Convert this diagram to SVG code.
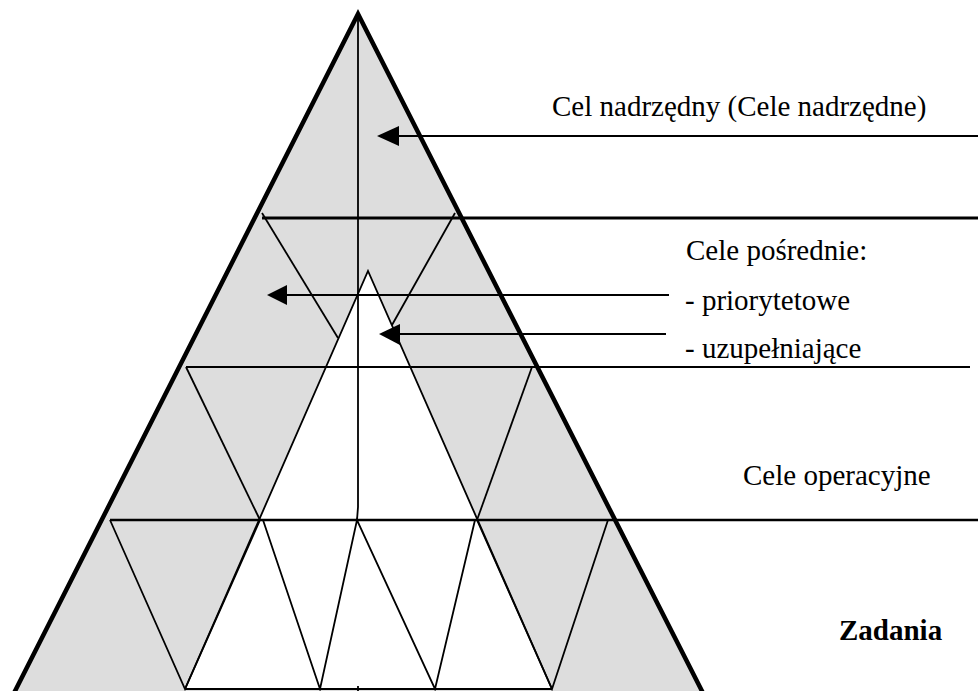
<svg xmlns="http://www.w3.org/2000/svg" width="978" height="691" viewBox="0 0 978 691">
  <style>
    .lbl { font-family: "Liberation Serif", "Times New Roman", serif; font-size: 29px; fill: #000; }
    .bold { font-weight: bold; }
    .thin { stroke: #000; stroke-width: 1.8; fill: none; }
    .hline { stroke: #000; stroke-width: 2.2; fill: none; }
    .conn { stroke: #000; stroke-width: 2; fill: none; }
    .head { fill: #000; }
  </style>
  <rect x="0" y="0" width="978" height="691" fill="#ffffff"/>

  <g id="pyramid">
    <polygon points="13,695 358,14 704,695" fill="#dddddd"/>
    <polygon points="368,271 185,689 552,689" fill="#ffffff"/>
    <!-- center vertical line -->
    <polyline class="thin" points="358,14 358,507 357,520"/>
    <line class="thin" x1="358" y1="686" x2="358" y2="691"/>
  </g>

  <g id="level-1">
    <line class="hline" x1="262" y1="218" x2="978" y2="218" style="stroke-width:3"/>
    <line class="thin" x1="262" y1="213" x2="338" y2="338"/>
    <line class="thin" x1="455" y1="213" x2="392" y2="325"/>
    <text class="lbl" x="552" y="116">Cel nadrzędny (Cele nadrzędne)</text>
  </g>

  <g id="level-2">
    <line class="hline" x1="186" y1="367" x2="970" y2="367"/>
    <line class="thin" x1="186" y1="367" x2="260" y2="520"/>
    <line class="thin" x1="477" y1="520" x2="532" y2="367"/>
    <polyline class="thin" points="185,689 368,271 552,689"/>
    <text class="lbl" x="686" y="260">Cele pośrednie:</text>
    <text class="lbl" x="685" y="310">- priorytetowe</text>
    <text class="lbl" x="685" y="358">- uzupełniające</text>
  </g>

  <g id="level-3">
    <line class="hline" x1="110" y1="520" x2="978" y2="520" style="stroke-width:2.5"/>
    <text class="lbl" x="743" y="485">Cele operacyjne</text>
  </g>

  <g id="level-4">
    <polyline class="thin" points="110,520 185,689 260,520"/>
    <polyline class="thin" points="263,520 320,689 357,520 435,689 475,520"/>
    <polyline class="thin" points="477,520 552,689 608,520"/>
    <line class="thin" x1="185" y1="689" x2="552" y2="689"/>
    <text class="lbl bold" x="839" y="640">Zadania</text>
  </g>

  <g id="outline">
    <polyline points="13,695 358,14 704,695" fill="none" stroke="#000" stroke-width="4.5" stroke-linejoin="miter"/>
  </g>

  <g id="connectors">
    <line class="conn" x1="978" y1="136" x2="398" y2="136"/>
    <polygon class="head" points="377,136 399,126 399,146"/>
    <line class="conn" x1="669" y1="295" x2="286" y2="295"/>
    <polygon class="head" points="267,295 287,285 287,305"/>
    <line class="conn" x1="666" y1="334" x2="399" y2="334"/>
    <polygon class="head" points="379,334 400,324 400,345"/>
  </g>
</svg>
